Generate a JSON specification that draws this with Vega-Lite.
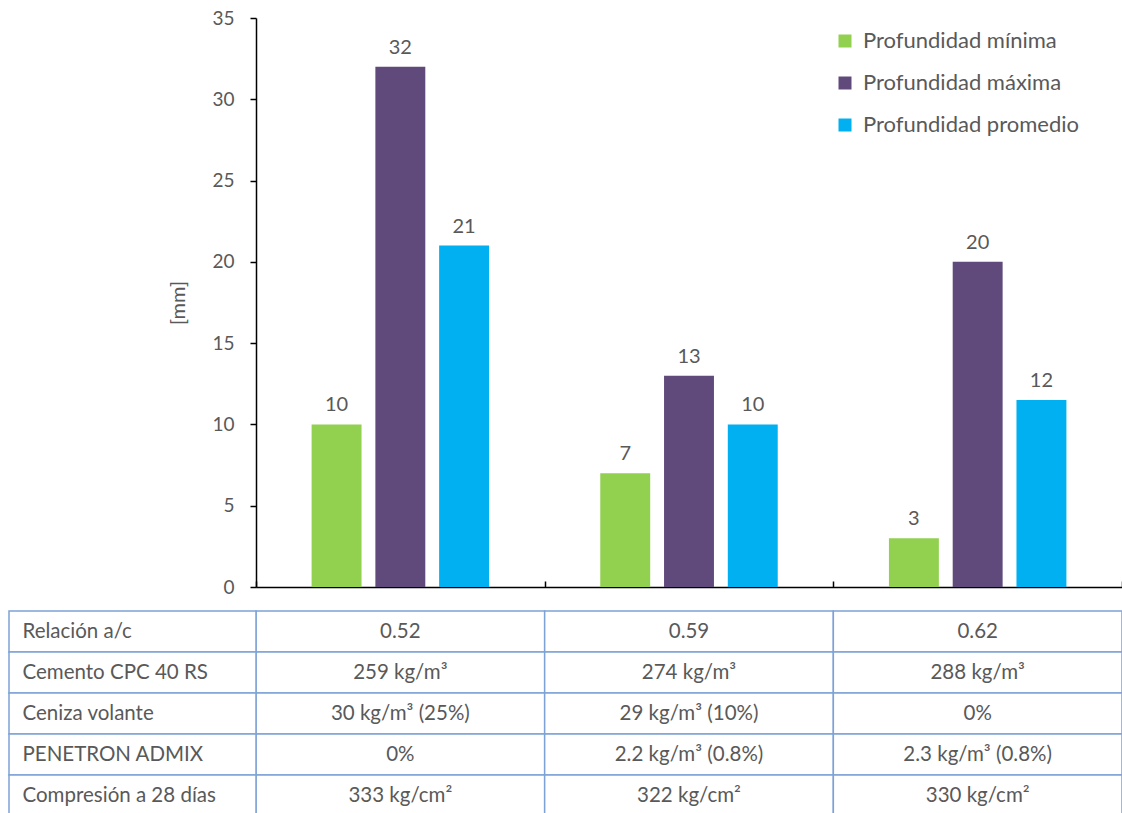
{
  "$schema": "https://vega.github.io/schema/vega-lite/v6.json",
  "padding": {"left": 8, "top": 9, "right": 0, "bottom": 0},
  "background": "white",
  "config": {"font": "Lato", "view": {"stroke": null}},
  "spacing": 13,
  "datasets": {
    "barras": [
      {"grupo": "0.52", "serie": "Profundidad mínima", "valor": 10, "etiqueta": "10"},
      {"grupo": "0.52", "serie": "Profundidad máxima", "valor": 32, "etiqueta": "32"},
      {"grupo": "0.52", "serie": "Profundidad promedio", "valor": 21, "etiqueta": "21"},
      {"grupo": "0.59", "serie": "Profundidad mínima", "valor": 7, "etiqueta": "7"},
      {"grupo": "0.59", "serie": "Profundidad máxima", "valor": 13, "etiqueta": "13"},
      {"grupo": "0.59", "serie": "Profundidad promedio", "valor": 10, "etiqueta": "10"},
      {"grupo": "0.62", "serie": "Profundidad mínima", "valor": 3, "etiqueta": "3"},
      {"grupo": "0.62", "serie": "Profundidad máxima", "valor": 20, "etiqueta": "20"},
      {"grupo": "0.62", "serie": "Profundidad promedio", "valor": 11.5, "etiqueta": "12"}
    ],
    "tabla": [
      {"fila": "Relación a/c", "grupo": "0.52", "texto": "0.52"},
      {"fila": "Relación a/c", "grupo": "0.59", "texto": "0.59"},
      {"fila": "Relación a/c", "grupo": "0.62", "texto": "0.62"},
      {"fila": "Cemento CPC 40 RS", "grupo": "0.52", "texto": "259 kg/m³"},
      {"fila": "Cemento CPC 40 RS", "grupo": "0.59", "texto": "274 kg/m³"},
      {"fila": "Cemento CPC 40 RS", "grupo": "0.62", "texto": "288 kg/m³"},
      {"fila": "Ceniza volante", "grupo": "0.52", "texto": "30 kg/m³ (25%)"},
      {"fila": "Ceniza volante", "grupo": "0.59", "texto": "29 kg/m³ (10%)"},
      {"fila": "Ceniza volante", "grupo": "0.62", "texto": "0%"},
      {"fila": "PENETRON ADMIX", "grupo": "0.52", "texto": "0%"},
      {"fila": "PENETRON ADMIX", "grupo": "0.59", "texto": "2.2 kg/m³ (0.8%)"},
      {"fila": "PENETRON ADMIX", "grupo": "0.62", "texto": "2.3 kg/m³ (0.8%)"},
      {"fila": "Compresión a 28 días", "grupo": "0.52", "texto": "333 kg/cm²"},
      {"fila": "Compresión a 28 días", "grupo": "0.59", "texto": "322 kg/cm²"},
      {"fila": "Compresión a 28 días", "grupo": "0.62", "texto": "330 kg/cm²"}
    ],
    "filas": [
      {"fila": "Relación a/c"},
      {"fila": "Cemento CPC 40 RS"},
      {"fila": "Ceniza volante"},
      {"fila": "PENETRON ADMIX"},
      {"fila": "Compresión a 28 días"}
    ]
  },
  "vconcat": [
    {
      "width": 866,
      "height": 569,
      "data": {"name": "barras"},
      "encoding": {
        "x": {
          "field": "grupo", "type": "nominal", "sort": null,
          "scale": {"paddingInner": 0, "paddingOuter": 0},
          "axis": {"labels": false, "title": null, "domainColor": "black", "domainWidth": 1.5, "tickBand": "extent", "tickSize": -6, "tickColor": "black", "tickWidth": 1.5}
        },
        "xOffset": {
          "field": "serie", "type": "nominal", "sort": null,
          "scale": {"paddingInner": 0.217, "paddingOuter": 0.872}
        },
        "y": {
          "field": "valor", "type": "quantitative",
          "scale": {"domain": [0, 35]},
          "axis": {
            "title": "[mm]", "values": [0, 5, 10, 15, 20, 25, 30, 35], "grid": false,
            "labelFontSize": 19, "labelColor": "#595959", "labelPadding": 16,
            "tickSize": 6, "tickColor": "black", "tickWidth": 1.5,
            "domainColor": "black", "domainWidth": 1.5,
            "titleFontSize": 20, "titleFontWeight": "normal", "titleColor": "#595959", "titlePadding": 23
          }
        }
      },
      "layer": [
        {
          "mark": {"type": "bar"},
          "encoding": {
            "color": {
              "field": "serie", "type": "nominal", "sort": null,
              "scale": {"domain": ["Profundidad mínima", "Profundidad máxima", "Profundidad promedio"], "range": ["#92D050", "#604A7B", "#00B0F0"]},
              "legend": {
                "title": null, "orient": "none", "legendX": 578, "legendY": 12, "padding": 0,
                "symbolType": "square", "symbolSize": 169, "symbolStrokeWidth": 0,
                "labelFontSize": 22, "labelColor": "#595959", "labelOffset": 7, "rowPadding": 20, "labelLimit": 400
              }
            }
          }
        },
        {
          "mark": {"type": "text", "dy": -13, "baseline": "alphabetic", "fontSize": 20, "color": "#595959"},
          "encoding": {"text": {"field": "etiqueta"}}
        }
      ]
    },
    {
      "width": 866,
      "height": 205,
      "layer": [
        {
          "data": {"name": "tabla"},
          "mark": {"type": "rect", "fill": "white", "stroke": "#7DA3D6", "strokeWidth": 1.5},
          "encoding": {
            "x": {"field": "grupo", "type": "nominal", "sort": null, "scale": {"paddingInner": 0, "paddingOuter": 0}, "axis": null},
            "y": {"field": "fila", "type": "nominal", "scale": {"domain": ["Relación a/c", "Cemento CPC 40 RS", "Ceniza volante", "PENETRON ADMIX", "Compresión a 28 días"], "paddingInner": 0, "paddingOuter": 0}, "axis": null}
          }
        },
        {
          "data": {"name": "tabla"},
          "mark": {"type": "text", "fontSize": 20.5, "color": "#595959"},
          "encoding": {
            "x": {"field": "grupo", "type": "nominal", "sort": null, "scale": {"paddingInner": 0, "paddingOuter": 0}, "axis": null},
            "y": {"field": "fila", "type": "nominal", "scale": {"domain": ["Relación a/c", "Cemento CPC 40 RS", "Ceniza volante", "PENETRON ADMIX", "Compresión a 28 días"], "paddingInner": 0, "paddingOuter": 0}, "axis": null},
            "text": {"field": "texto"}
          }
        },
        {
          "data": {"name": "filas"},
          "mark": {"type": "rect", "fill": "white", "stroke": "#7DA3D6", "strokeWidth": 1.5},
          "encoding": {
            "x": {"datum": "etiqueta", "type": "nominal", "scale": {"domain": ["etiqueta"], "range": [-247, 0], "paddingInner": 0, "paddingOuter": 0}, "axis": null},
            "y": {"field": "fila", "type": "nominal", "scale": {"domain": ["Relación a/c", "Cemento CPC 40 RS", "Ceniza volante", "PENETRON ADMIX", "Compresión a 28 días"], "paddingInner": 0, "paddingOuter": 0}, "axis": null}
          }
        },
        {
          "data": {"name": "filas"},
          "mark": {"type": "text", "fontSize": 20.5, "color": "#595959", "align": "left", "dx": -110},
          "encoding": {
            "x": {"datum": "etiqueta", "type": "nominal", "scale": {"domain": ["etiqueta"], "range": [-247, 0], "paddingInner": 0, "paddingOuter": 0}, "axis": null},
            "y": {"field": "fila", "type": "nominal", "scale": {"domain": ["Relación a/c", "Cemento CPC 40 RS", "Ceniza volante", "PENETRON ADMIX", "Compresión a 28 días"], "paddingInner": 0, "paddingOuter": 0}, "axis": null},
            "text": {"field": "fila"}
          }
        }
      ],
      "resolve": {"scale": {"x": "independent"}}
    }
  ]
}
